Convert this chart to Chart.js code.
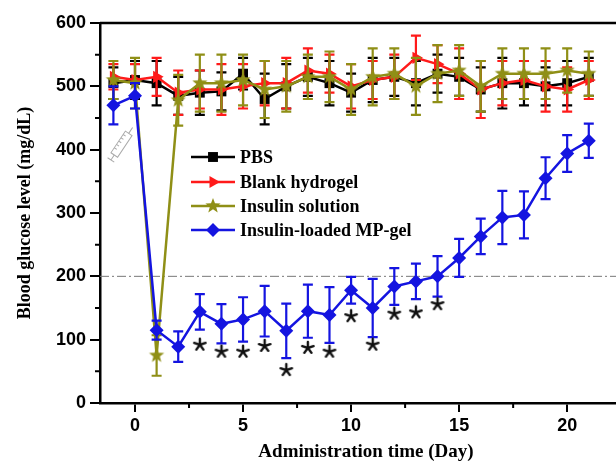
<!DOCTYPE html>
<html lang="en">
<head>
<meta charset="UTF-8">
<title></title>
<script src="https://cdn.jsdelivr.net/npm/chart.js"></script>
<style>
  html, body {
    margin: 0;
    padding: 0;
    overflow: hidden;
    background: #fff;
  }
  #wrap {
    position: absolute;
    left: 0;
    top: 0;
    width: 640px;
    height: 464px;
  }
</style>
</head>
<body>
<div id="wrap"><canvas id="chart" width="640" height="464"></canvas></div>
<script>
  // days -1 .. 21
  const days = [-1, 0, 1, 2, 3, 4, 5, 6, 7, 8, 9, 10, 11, 12, 13, 14, 15, 16, 17, 18, 19, 20, 21]

  const pbs      = [505, 510, 505, 485, 490, 492, 520, 480, 500, 515, 505, 490, 510, 515, 505, 520, 515, 495, 505, 505, 500, 505, 515]
  const pbsErr   = [ 25,  30,  35,  30,  35,  30,  25,  40,  35,  30,  35,  30,  35,  30,  35,  30,  30,  35,  40,  35,  30,  35,  30]
  const blank    = [515, 510, 515, 490, 495, 495, 500, 505, 505, 525, 520, 500, 510, 515, 545, 535, 520, 495, 505, 510, 500, 495, 510]
  const blankErr = [ 20,  25,  30,  35,  30,  40,  35,  35,  40,  35,  30,  35,  30,  35,  35,  30,  40,  45,  35,  30,  40,  35,  30]
  const insSol    = [510, 505,  75, 478, 505, 505, 510, 495, 500, 515, 515, 495, 515, 520, 500, 520, 525, 500, 520, 520, 520, 525, 520]
  const insSolErr = [ 30,  40,  32,  40,  45,  45,  40,  45,  40,  35,  40,  40,  45,  40,  45,  45,  40,  40,  40,  40,  40,  35,  35]
  const mpGel    = [470, 485, 115,  89, 144, 125, 132, 145, 114, 145, 139, 178, 150, 184, 192, 200, 229, 263, 293, 297, 355, 394, 414]
  const mpGelErr = [ 30,  20,  15,  24,  28,  31,  35,  40,  43,  42,  44,  21,  46,  29,  28,  32,  30,  28,  42,  37,  33,  29,  27]

  // significance marks under the MP-gel bars
  const starDays = [3, 4, 5, 6, 7, 8, 9, 10, 11, 12, 13, 14]
  const starVals = [92, 81, 81, 90, 52, 87, 81, 137, 92, 141, 143, 156]

  const xTicks = [0, 5, 10, 15, 20]
  const yTicks = [0, 100, 200, 300, 400, 500, 600]
  const refLevel = 200

  const BLACK = '#000000', RED = '#ff1a1a', OLIVE = '#8f8f16', BLUE = '#1414e0'

  // five point star marker
  function starImg(color, r) {
    const c = document.createElement('canvas')
    c.width = c.height = 2 * r + 2
    const g = c.getContext('2d')
    g.translate(r + 1, r + 1)
    g.beginPath()
    for (let i = 0; i < 10; i++) {
      const a = -Math.PI / 2 + i * Math.PI / 5
      const rr = i % 2 ? r * 0.42 : r
      g.lineTo(Math.cos(a) * rr, Math.sin(a) * rr)
    }
    g.closePath()
    g.fillStyle = color
    g.fill()
    return c
  }
  // asterisk marker
  function asteriskImg(size) {
    const c = document.createElement('canvas')
    c.width = c.height = size + 4
    const g = c.getContext('2d')
    g.translate(size / 2 + 2, size / 2 + 2)
    g.strokeStyle = '#111'
    g.lineWidth = 2.4
    g.lineCap = 'round'
    for (let i = 0; i < 5; i++) {
      const a = -Math.PI / 2 + i * 2 * Math.PI / 5
      g.beginPath()
      g.moveTo(0, 0)
      g.lineTo(Math.cos(a) * size / 2, Math.sin(a) * size / 2)
      g.stroke()
    }
    return c
  }
  const olStar = starImg(OLIVE, 8)
  const asterisk = asteriskImg(12)

  const pts = vals => days.map((d, i) => ({ x: d, y: vals[i] }))

  const series = [
    { label: 'PBS', color: BLACK, vals: pbs, err: pbsErr, style: 'rect', radius: 7, rotation: 0, order: 3 },
    { label: 'Blank hydrogel', color: RED, vals: blank, err: blankErr, style: 'triangle', radius: 7, rotation: 90, order: 2 },
    { label: 'Insulin solution', color: OLIVE, vals: insSol, err: insSolErr, style: olStar, radius: 8, rotation: 0, order: 1 },
    { label: 'Insulin-loaded MP-gel', color: BLUE, vals: mpGel, err: mpGelErr, style: 'rectRot', radius: 7, rotation: 0, order: 0 },
  ]

  const datasets = series.map(s => ({
    type: 'line',
    label: s.label,
    data: pts(s.vals),
    err: s.err,
    borderColor: s.color,
    backgroundColor: s.color,
    borderWidth: 2.5,
    pointStyle: s.style,
    pointRadius: s.radius,
    pointRotation: s.rotation,
    pointBorderWidth: 0,
    tension: 0,
    order: s.order,
    clip: false,
  }))
  datasets.push({
    type: 'scatter',
    label: 'stars',
    data: starDays.map((d, i) => ({ x: d, y: starVals[i] })),
    pointStyle: asterisk,
    pointRadius: 6,
    showLine: false,
    order: -1,
    clip: false,
  })

  const errorBars = {
    id: 'errorBars',
    beforeDatasetDraw(chart, args) {
      const ds = chart.data.datasets[args.index]
      if (!ds.err) return
      const y = chart.scales.y, ctx = chart.ctx
      ctx.save()
      ctx.strokeStyle = ds.borderColor
      ctx.lineWidth = 2.2
      args.meta.data.forEach((pt, i) => {
        const v = ds.data[i].y, e = ds.err[i]
        const top = y.getPixelForValue(v + e), bot = y.getPixelForValue(v - e)
        ctx.beginPath()
        ctx.moveTo(pt.x, top); ctx.lineTo(pt.x, bot)
        ctx.moveTo(pt.x - 5, top); ctx.lineTo(pt.x + 5, top)
        ctx.moveTo(pt.x - 5, bot); ctx.lineTo(pt.x + 5, bot)
        ctx.stroke()
      })
      ctx.restore()
    }
  }

  const frame = {
    id: 'frame',
    beforeDatasetsDraw(chart) {
      const { ctx, chartArea: a, scales: { x, y } } = chart
      ctx.save()
      // reference line
      ctx.strokeStyle = '#777'
      ctx.lineWidth = 1
      ctx.setLineDash([9, 3, 2, 3])
      ctx.beginPath()
      ctx.moveTo(a.left, y.getPixelForValue(refLevel))
      ctx.lineTo(a.right, y.getPixelForValue(refLevel))
      ctx.stroke()
      ctx.setLineDash([])
      // faint syringe sketch near the injection
      ctx.save()
      ctx.translate(x.getPixelForValue(-0.6), y.getPixelForValue(410))
      ctx.rotate(-Math.PI / 3.2)
      ctx.strokeStyle = '#aaa'
      ctx.lineWidth = 1
      ctx.strokeRect(-14, -4, 26, 8)
      ctx.beginPath()
      ctx.moveTo(-14, 0); ctx.lineTo(-20, 0)
      ctx.moveTo(-20, -4); ctx.lineTo(-20, 4)
      ctx.moveTo(12, 0); ctx.lineTo(19, 0)
      for (let k = -8; k < 12; k += 4) { ctx.moveTo(k, -4); ctx.lineTo(k, -1) }
      ctx.stroke()
      ctx.restore()
      // top border
      ctx.strokeStyle = '#000'
      ctx.lineWidth = 2.5
      ctx.beginPath()
      ctx.moveTo(a.left, a.top)
      ctx.lineTo(a.right, a.top)
      ctx.stroke()
      // minor ticks
      ctx.lineWidth = 2
      ctx.beginPath()
      for (let v = 50; v < 600; v += 100) {
        const py = y.getPixelForValue(v)
        ctx.moveTo(a.left - 5, py); ctx.lineTo(a.left, py)
      }
      for (let d = 2.5; d < 23; d += 5) {
        const px = x.getPixelForValue(d)
        ctx.moveTo(px, a.bottom); ctx.lineTo(px, a.bottom + 5)
      }
      ctx.stroke()
      ctx.restore()
    }
  }

  const legendBox = {
    id: 'legendBox',
    afterDatasetsDraw(chart) {
      const ctx = chart.ctx
      const rows = [157, 182, 206, 230]
      ctx.save()
      ctx.font = 'bold 18px "Liberation Serif", serif'
      ctx.textBaseline = 'middle'
      series.forEach((s, i) => {
        const yy = rows[i]
        ctx.strokeStyle = s.color
        ctx.fillStyle = s.color
        ctx.lineWidth = 2.5
        ctx.beginPath()
        ctx.moveTo(191, yy); ctx.lineTo(235, yy)
        ctx.stroke()
        Chart.helpers.drawPoint(ctx, { pointStyle: s.style, radius: s.radius, rotation: s.rotation, borderWidth: 0 }, 213, yy)
        ctx.fillStyle = '#000'
        ctx.fillText(s.label, 240, yy + 1)
      })
      ctx.restore()
    }
  }

  Chart.defaults.color = '#000'

  new Chart(document.getElementById('chart'), {
    data: { datasets },
    options: {
      responsive: false,
      animation: false,
      layout: { padding: { top: 23, right: 8, left: 0, bottom: 0 } },
      plugins: { legend: { display: false }, tooltip: { enabled: false } },
      scales: {
        x: {
          type: 'linear',
          min: -1.62,
          max: 23,
          afterFit(scale) { scale.height = 61 },
          afterBuildTicks(scale) { scale.ticks = xTicks.map(v => ({ value: v })) },
          ticks: { font: { family: '"Liberation Sans", Arial, sans-serif', size: 18, weight: 'bold' }, padding: 3 },
          grid: { drawOnChartArea: false, drawTicks: true, tickLength: 9, color: '#000', lineWidth: 2 },
          border: { display: true, color: '#000', width: 2.5 },
          title: {
            display: true,
            text: 'Administration time (Day)',
            font: { family: '"Liberation Serif", "Times New Roman", serif', size: 19, weight: 'bold' },
            padding: { top: 0, bottom: 1 },
          },
        },
        y: {
          type: 'linear',
          min: 0,
          max: 600,
          afterFit(scale) { scale.width = 100 },
          afterBuildTicks(scale) { scale.ticks = yTicks.map(v => ({ value: v })) },
          ticks: { font: { family: '"Liberation Sans", Arial, sans-serif', size: 18, weight: 'bold' }, padding: 4 },
          grid: { drawOnChartArea: false, drawTicks: true, tickLength: 10, color: '#000', lineWidth: 2 },
          border: { display: true, color: '#000', width: 2.5 },
          title: {
            display: true,
            text: 'Blood glucose level (mg/dL)',
            font: { family: '"Liberation Serif", "Times New Roman", serif', size: 18, weight: 'bold' },
            padding: { top: 15, bottom: 0 },
          },
        },
      },
    },
    plugins: [errorBars, frame, legendBox],
  })
</script>
</body>
</html>
